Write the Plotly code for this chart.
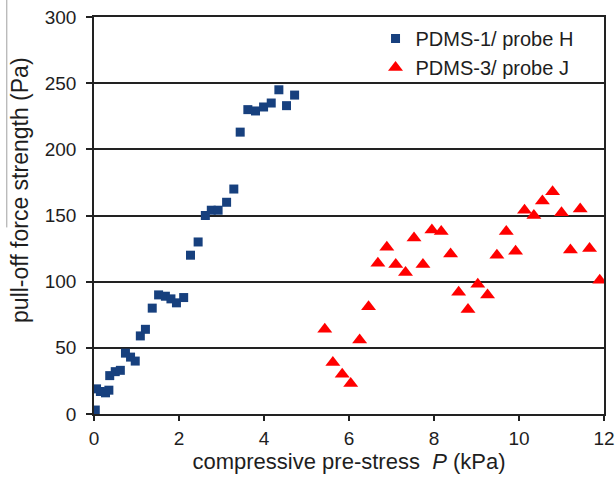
import plotly.graph_objects as go

# PDMS-1 / probe H
pdms1_p = [0.03, 0.06, 0.15, 0.27, 0.35, 0.37, 0.50, 0.62, 0.74, 0.86, 0.97,
           1.09, 1.21, 1.37, 1.52, 1.68, 1.81, 1.94, 2.11, 2.27, 2.45, 2.62,
           2.76, 2.92, 3.12, 3.29, 3.44, 3.62, 3.80, 3.99, 4.17, 4.35, 4.53, 4.72]
pdms1_f = [3, 19, 17, 16, 18, 29, 32, 33, 46, 43, 40,
           59, 64, 80, 90, 89, 87, 84, 88, 120, 130, 150,
           154, 154, 160, 170, 213, 230, 229, 232, 235, 245, 233, 241]

# PDMS-3 / probe J
pdms3_p = [5.43, 5.62, 5.84, 6.04, 6.25, 6.46, 6.68, 6.89, 7.10, 7.33, 7.53,
           7.74, 7.95, 8.17, 8.39, 8.58, 8.80, 9.03, 9.26, 9.48, 9.70, 9.92,
           10.13, 10.35, 10.55, 10.79, 11.00, 11.21, 11.44, 11.66, 11.90]
pdms3_f = [64, 39, 30, 23, 56, 81, 114, 126, 113, 107, 133,
           113, 139, 138, 121, 92, 79, 98, 90, 120, 138, 123,
           154, 150, 161, 168, 152, 124, 155, 125, 101]

x_ticks = [0, 2, 4, 6, 8, 10, 12]
y_ticks = [0, 50, 100, 150, 200, 250, 300]

FONT = "Liberation Sans, Arial, sans-serif"
INK = "#1e1e1e"
LINE = "#222222"

fig = go.Figure()
fig.add_trace(go.Scatter(
    x=pdms1_p, y=pdms1_f, mode="markers", name="PDMS-1/ probe H",
    marker=dict(symbol="square", size=9, color="#17407e"),
))
fig.add_trace(go.Scatter(
    x=pdms3_p, y=pdms3_f, mode="markers", name="PDMS-3/ probe J",
    marker=dict(symbol="triangle-up", size=13, color="#ff0000"),
))

fig.update_layout(
    width=615, height=480,
    margin=dict(l=94, r=11, t=17, b=66, autoexpand=False),
    paper_bgcolor="white", plot_bgcolor="white",
    font=dict(family=FONT, size=19, color=INK),
    showlegend=True,
    legend=dict(
        x=0.552, y=0.995, xanchor="left", yanchor="top",
        bgcolor="rgba(0,0,0,0)", font=dict(size=20, color=INK),
        itemwidth=30, tracegroupgap=0,
    ),
    xaxis=dict(
        range=[0, 12], tickvals=x_ticks, ticktext=[str(v) for v in x_ticks],
        showgrid=False, zeroline=False, automargin=False,
        showline=True, linecolor=LINE, linewidth=1.5, mirror=True,
        ticks="outside", ticklen=5, tickcolor=LINE, tickwidth=1.5,
        ticklabelstandoff=1,
        title=dict(text="compressive pre-stress  <i>P</i> (kPa)", standoff=6,
                   font=dict(size=22)),
    ),
    yaxis=dict(
        range=[0, 300], tickvals=y_ticks, ticktext=[str(v) for v in y_ticks],
        showgrid=True, gridcolor=LINE, gridwidth=1.5, zeroline=False,
        automargin=False,
        showline=True, linecolor=LINE, linewidth=1.5, mirror=True,
        ticks="outside", ticklen=6, tickcolor=LINE, tickwidth=1.5,
        ticklabelstandoff=6,
    ),
    annotations=[dict(
        text="pull-off force strength (Pa)", textangle=-90,
        xref="paper", yref="paper", x=-0.145, y=0.562,
        xanchor="center", yanchor="middle", showarrow=False,
        font=dict(size=23, color=INK),
    )],
    shapes=[dict(
        type="line", xref="paper", yref="paper",
        x0=-0.171, x1=-0.171, y0=1.043, y1=0.47,
        line=dict(color="#a0a0a0", width=1),
    )],
)

fig.write_html("out.html")
